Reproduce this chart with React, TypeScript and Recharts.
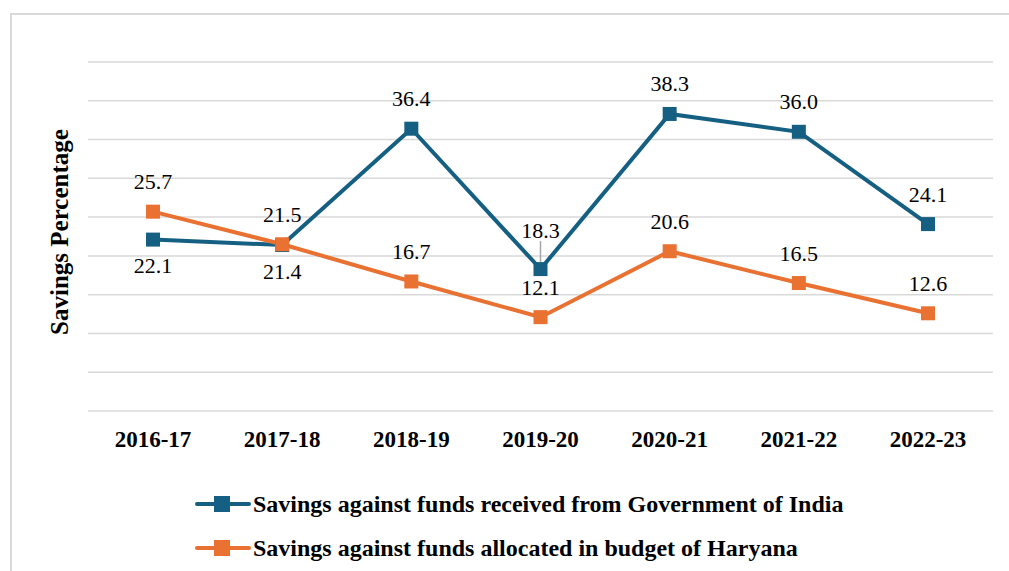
import { LineChart, Line, XAxis, YAxis, CartesianGrid } from 'recharts'

const years = ['2016-17', '2017-18', '2018-19', '2019-20', '2020-21', '2021-22', '2022-23']
const goiSavings = [22.1, 21.4, 36.4, 18.3, 38.3, 36.0, 24.1]
const haryanaSavings = [25.7, 21.5, 16.7, 12.1, 20.6, 16.5, 12.6]
const yTicks = [0, 5, 10, 15, 20, 25, 30, 35, 40, 45]

// where each blue label sits relative to its point
const goiLabelPos = ['below', 'below', 'above', 'callout', 'above', 'above', 'above']

const BLUE = '#156082'
const ORANGE = '#E97132'
const FONT = '"Times New Roman", "Liberation Serif", serif'

const data = years.map((y, i) => ({ year: y, goi: goiSavings[i], hry: haryanaSavings[i] }))

const squareDot = (color: string) => (props: any) => {
  const { cx, cy, index } = props
  if (cx == null || cy == null) return null
  return <rect key={index} x={cx - 7} y={cy - 7} width={14} height={14} fill={color} />
}

const makeLabel = (positions: string[] | null) => (props: any) => {
  const { x, y, value, index } = props
  const pos = positions ? positions[index] : 'above'
  let ty = y - 30
  if (pos === 'below') ty = y + 26
  if (pos === 'callout') ty = y - 39
  return (
    <g key={index}>
      {pos === 'callout' && (
        <line x1={x} x2={x} y1={y - 28} y2={y - 7} stroke="#a6a6a6" strokeWidth={1.5} />
      )}
      <text x={x} y={ty} textAnchor="middle" dominantBaseline="central" fontFamily={FONT} fontSize={22} fill="#000">
        {Number(value).toFixed(1)}
      </text>
    </g>
  )
}

function LegendRow({ color, text, top }: { color: string; text: string; top: number }) {
  return (
    <div style={{ position: 'absolute', left: 195, top, height: 30, display: 'flex', alignItems: 'center' }}>
      <div style={{ position: 'relative', width: 56, height: 30 }}>
        <div style={{ position: 'absolute', left: 0, top: 13, width: 56, height: 4, borderRadius: 2, background: color }} />
        <div style={{ position: 'absolute', left: 19, top: 7, width: 16, height: 16, background: color }} />
      </div>
      <span style={{ marginLeft: 2, fontFamily: FONT, fontWeight: 'bold', fontSize: 24, color: '#000', whiteSpace: 'nowrap' }}>
        {text}
      </span>
    </div>
  )
}

export default function App() {
  return (
    <div style={{ position: 'absolute', left: 0, top: 0, width: 1009, height: 571, overflow: 'hidden', background: '#fff' }}>
      <div style={{ position: 'absolute', left: 10, top: 13, width: 1020, height: 600, border: '2px solid #d9d9d9' }} />
      <LineChart width={1009} height={571} data={data} margin={{ top: 62, right: 16, left: 88, bottom: 120 }}>
        <CartesianGrid vertical={false} stroke="#d9d9d9" strokeWidth={1.5} />
        <XAxis
          dataKey="year"
          height={40}
          padding={{ left: 65, right: 65 }}
          axisLine={false}
          tickLine={false}
          tickSize={0}
          tickMargin={20}
          tick={{ fontFamily: FONT, fontSize: 23, fontWeight: 'bold', fill: '#000' }}
        />
        <YAxis
          width={0}
          domain={[0, 45]}
          ticks={yTicks}
          interval={0}
          tick={() => <g />}
          axisLine={false}
          tickLine={false}
        />
        <Line
          dataKey="goi"
          stroke={BLUE}
          strokeWidth={4}
          dot={squareDot(BLUE)}
          activeDot={false}
          label={makeLabel(goiLabelPos)}
          isAnimationActive={false}
        />
        <Line
          dataKey="hry"
          stroke={ORANGE}
          strokeWidth={4}
          dot={squareDot(ORANGE)}
          activeDot={false}
          label={makeLabel(null)}
          isAnimationActive={false}
        />
      </LineChart>
      <div
        style={{
          position: 'absolute',
          left: 60,
          top: 232,
          transform: 'translate(-50%, -50%) rotate(-90deg)',
          fontFamily: FONT,
          fontWeight: 'bold',
          fontSize: 25,
          whiteSpace: 'nowrap',
          color: '#000',
        }}
      >
        Savings Percentage
      </div>
      <LegendRow color={BLUE} text="Savings against funds received from Government of India" top={489} />
      <LegendRow color={ORANGE} text="Savings against funds allocated in budget of Haryana" top={533} />
    </div>
  )
}
